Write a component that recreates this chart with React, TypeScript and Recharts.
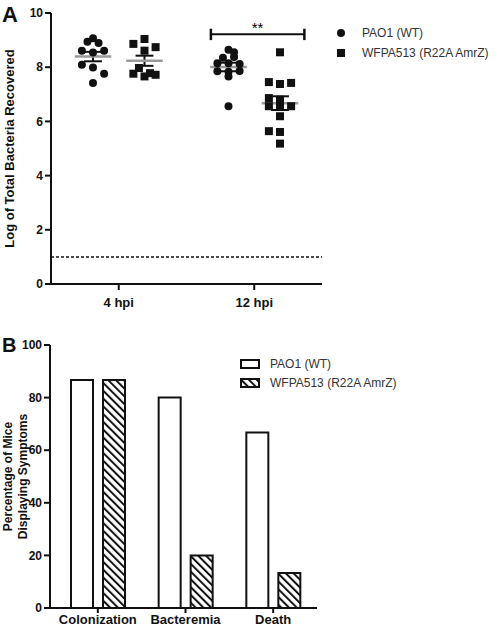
import React from "react";
import { ScatterChart, Scatter, XAxis, YAxis, ReferenceLine, BarChart, Bar } from "recharts";

// panel A: log CFU recovered per mouse, column = horizontal jitter slot
const timepoints = ["4 hpi", "12 hpi"];
const wt4h = [9.07, 8.94, 8.89, 8.61, 8.54, 8.61, 8.09, 7.99, 7.76, 7.42];
const wt4hCol = [0, -1, 1, -2, 0, 2, -2, 0, 2, 0];
const mut4h = [8.86, 9.04, 8.74, 8.61, 7.76, 7.97, 7.66, 7.78, 7.72];
const mut4hCol = [-2, 0, 2, 0, -2, -1, 0, 1, 2];
const wt12h = [8.64, 8.55, 8.35, 8.38, 8.15, 8.15, 8.12, 7.85, 7.83, 7.86, 7.66, 6.56];
const wt12hCol = [0, 1, -1, 1, -2, 0, 2, -2, 0, 2, 0, 0];
const mut12h = [8.55, 7.45, 7.38, 7.42, 6.86, 6.8, 6.56, 6.56, 6.56, 6.19, 5.64, 5.61, 5.18];
const mut12hCol = [0, -2, 0, 2, -2, 0, -2, 0, 2, 0, -2, 0, 0];
const detectionLimit = 1;
const yTicksA = [0, 2, 4, 6, 8, 10];
const significance = "**";

// panel B: % of mice with symptoms
const symptoms = ["Colonization", "Bacteremia", "Death"];
const wtPercent = [86.7, 80, 66.7];
const mutPercent = [86.7, 20, 13.3];
const yTicksB = [0, 20, 40, 60, 80, 100];

const strains = ["PAO1 (WT)", "WFPA513 (R22A AmrZ)"];

const FONT = "'Liberation Sans', Arial, Helvetica, sans-serif";
const INK = "#111";
const SIDE = 0.19;
const STEP = 0.041;
const HALF_MEAN = 0.135;
const CAP = 0.066;

const toPoints = (vals: number[], cols: number[], group: number, side: number) =>
  vals.map((v, i) => ({ x: group + side * SIDE + cols[i] * STEP, y: v }));

const summary = (vals: number[], group: number, side: number) => {
  const n = vals.length;
  const mean = vals.reduce((a, b) => a + b, 0) / n;
  const sd = Math.sqrt(vals.reduce((a, b) => a + (b - mean) ** 2, 0) / (n - 1));
  return { cx: group + side * SIDE, mean, sem: sd / Math.sqrt(n) };
};

const wtPoints = [...toPoints(wt4h, wt4hCol, 1, -1), ...toPoints(wt12h, wt12hCol, 2, -1)];
const mutPoints = [...toPoints(mut4h, mut4hCol, 1, 1), ...toPoints(mut12h, mut12hCol, 2, 1)];
const summaries = [
  summary(wt4h, 1, -1),
  summary(mut4h, 1, 1),
  summary(wt12h, 2, -1),
  summary(mut12h, 2, 1),
];

const barData = symptoms.map((name, i) => ({ name, wt: wtPercent[i], mut: mutPercent[i] }));

const tickStyle = { fill: INK, fontSize: 12, fontWeight: 700, fontFamily: FONT };
const lineStyle = { stroke: INK, strokeWidth: 2 };

const DotShape = (p: any) => <circle cx={p.cx} cy={p.cy} r={4} fill={INK} />;
const SquareShape = (p: any) => <rect x={p.cx - 4} y={p.cy - 4} width={8} height={8} fill={INK} />;

const AxisTitle = ({ x, y, text, size }: { x: number; y: number; text: string; size: number }) => (
  <text
    transform={`translate(${x},${y}) rotate(-90)`}
    textAnchor="middle"
    dominantBaseline="central"
    fontSize={size}
    fontWeight={700}
    fontFamily={FONT}
    fill={INK}
  >
    {text}
  </text>
);

export default function App() {
  const bracketLeft = 2 - SIDE - 0.13;
  const bracketRight = 2 + SIDE + 0.18;
  const bracketY = 9.22;

  return (
    <div style={{ position: "absolute", left: 0, top: 0, width: 500, height: 628, background: "#fff", fontFamily: FONT }}>
      <svg width={0} height={0} style={{ position: "absolute" }}>
        <defs>
          <pattern id="hatch" patternUnits="userSpaceOnUse" width={5.5} height={5.5} patternTransform="rotate(-45)">
            <rect width={5.5} height={5.5} fill="#fff" />
            <line x1={1} y1={0} x2={1} y2={5.5} stroke={INK} strokeWidth={2} />
          </pattern>
        </defs>
      </svg>

      <div style={{ position: "absolute", left: 0, top: 0 }}>
        <ScatterChart width={500} height={320} margin={{ top: 13, right: 178, bottom: 6, left: 11 }}>
          <XAxis
            type="number"
            dataKey="x"
            domain={[0.5, 2.5]}
            ticks={[1, 2]}
            tickFormatter={(v: number) => timepoints[v - 1]}
            height={30}
            tick={{ ...tickStyle, fontSize: 13 }}
            tickSize={6}
            tickMargin={8}
            axisLine={lineStyle}
            tickLine={lineStyle}
          />
          <YAxis
            type="number"
            dataKey="y"
            domain={[0, 10]}
            ticks={yTicksA}
            width={40}
            tick={tickStyle}
            tickSize={6}
            tickMargin={2}
            axisLine={lineStyle}
            tickLine={lineStyle}
            label={{
              content: (props: any) => {
                const vb = props.viewBox || { y: 13, height: 271 };
                return <AxisTitle x={9} y={vb.y + vb.height / 2} text="Log of Total Bacteria Recovered" size={13} />;
              },
            }}
          />
          <ReferenceLine y={detectionLimit} stroke={INK} strokeWidth={1.5} strokeDasharray="3 2" />
          <Scatter data={wtPoints} shape={DotShape} isAnimationActive={false} />
          <Scatter data={mutPoints} shape={SquareShape} isAnimationActive={false} />
          {summaries.map((s, i) => (
            <React.Fragment key={i}>
              <ReferenceLine
                segment={[{ x: s.cx, y: s.mean - s.sem }, { x: s.cx, y: s.mean + s.sem }]}
                stroke={INK}
                strokeWidth={2}
              />
              <ReferenceLine
                segment={[{ x: s.cx - CAP, y: s.mean + s.sem }, { x: s.cx + CAP, y: s.mean + s.sem }]}
                stroke={INK}
                strokeWidth={2}
              />
              <ReferenceLine
                segment={[{ x: s.cx - CAP, y: s.mean - s.sem }, { x: s.cx + CAP, y: s.mean - s.sem }]}
                stroke={INK}
                strokeWidth={2}
              />
              <ReferenceLine
                segment={[{ x: s.cx - HALF_MEAN, y: s.mean }, { x: s.cx + HALF_MEAN, y: s.mean }]}
                stroke="#9a9a9a"
                strokeWidth={2.5}
              />
            </React.Fragment>
          ))}
          <ReferenceLine
            segment={[{ x: bracketLeft, y: bracketY }, { x: bracketRight, y: bracketY }]}
            stroke={INK}
            strokeWidth={2}
            label={{
              content: (props: any) => {
                const vb = props.viewBox || { x: 0, y: 0, width: 0 };
                return (
                  <text x={vb.x + (vb.width || 0) / 2} y={vb.y - 1} textAnchor="middle" fontSize={15} fontFamily={FONT} fill="#000">
                    {significance}
                  </text>
                );
              },
            }}
          />
          <ReferenceLine segment={[{ x: bracketLeft, y: 9.0 }, { x: bracketLeft, y: 9.42 }]} stroke={INK} strokeWidth={2.5} />
          <ReferenceLine segment={[{ x: bracketRight, y: 9.0 }, { x: bracketRight, y: 9.42 }]} stroke={INK} strokeWidth={2.5} />
        </ScatterChart>
      </div>

      <div style={{ position: "absolute", left: 0, top: 320 }}>
        <BarChart
          width={500}
          height={308}
          data={barData}
          margin={{ top: 25, right: 183, bottom: 0, left: 10 }}
          barSize={22}
          barGap={10}
        >
          <XAxis
            dataKey="name"
            height={20}
            padding={{ left: 4, right: 0 }}
            tick={{ ...tickStyle, fontSize: 13 }}
            tickSize={5}
            tickMargin={2}
            axisLine={lineStyle}
            tickLine={lineStyle}
            interval={0}
          />
          <YAxis
            domain={[0, 100]}
            ticks={yTicksB}
            interval={0}
            width={40}
            tick={tickStyle}
            tickSize={6}
            tickMargin={2}
            axisLine={lineStyle}
            tickLine={lineStyle}
            label={{
              content: (props: any) => {
                const vb = props.viewBox || { y: 25, height: 263 };
                const cy = vb.y + vb.height / 2;
                return (
                  <g>
                    <AxisTitle x={8} y={cy} text="Percentage of Mice" size={12} />
                    <AxisTitle x={22.5} y={cy} text="Displaying Symptoms" size={12} />
                  </g>
                );
              },
            }}
          />
          <Bar dataKey="wt" fill="#fff" stroke={INK} strokeWidth={2} isAnimationActive={false} />
          <Bar dataKey="mut" fill="url(#hatch)" stroke={INK} strokeWidth={2} isAnimationActive={false} />
        </BarChart>
      </div>

      <svg width={500} height={628} style={{ position: "absolute", left: 0, top: 0, pointerEvents: "none" }}>
        <text x={2} y={22} fontSize={22} fontWeight={700} fontFamily={FONT} fill={INK}>A</text>
        <text x={2} y={352} fontSize={20} fontWeight={700} fontFamily={FONT} fill={INK}>B</text>

        <circle cx={341} cy={33} r={4} fill={INK} />
        <text x={362} y={37} fontSize={12} fontFamily={FONT} fill="#333">{strains[0]}</text>
        <rect x={337} y={49} width={8} height={8} fill={INK} />
        <text x={362} y={57} fontSize={12} fontFamily={FONT} fill="#333">{strains[1]}</text>

        <rect x={241} y={360} width={18} height={8} fill="#fff" stroke={INK} strokeWidth={2} />
        <text x={270} y={368} fontSize={12} fontFamily={FONT} fill="#333">{strains[0]}</text>
        <rect x={241} y={379} width={18} height={8} fill="url(#hatch)" stroke={INK} strokeWidth={2} />
        <text x={270} y={387} fontSize={12} fontFamily={FONT} fill="#333">{strains[1]}</text>
      </svg>
    </div>
  );
}
